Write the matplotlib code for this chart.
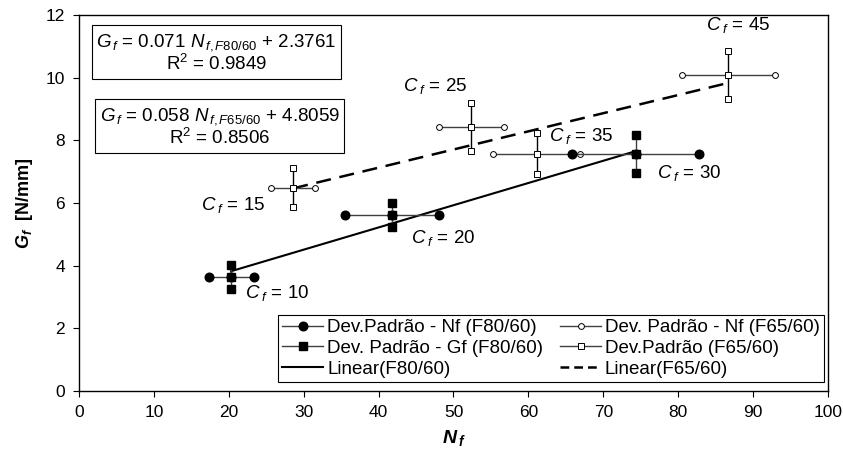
import numpy as np
import matplotlib
matplotlib.use('Agg')
import matplotlib.pyplot as plt
from matplotlib.lines import Line2D

plt.rcParams['font.family'] = ['Liberation Sans', 'DejaVu Sans']
plt.rcParams['mathtext.fontset'] = 'custom'
plt.rcParams['mathtext.rm'] = 'Liberation Sans'
plt.rcParams['mathtext.it'] = 'Liberation Sans:italic'
plt.rcParams['mathtext.bf'] = 'Liberation Sans:bold'
plt.rcParams['mathtext.bfit'] = 'Liberation Sans:italic:bold'

# F80/60 series (Cf = 10, 20, 30)
cf_80 = [10, 20, 30]
nf_80 = [20.3, 41.8, 74.3]
gf_80 = [3.64, 5.61, 7.56]
sd_nf_80 = [3.0, 6.3, 8.5]
sd_gf_80 = [0.39, 0.38, 0.62]

# F65/60 series (Cf = 15, 25, 35, 45)
cf_65 = [15, 25, 35, 45]
nf_65 = [28.6, 52.4, 61.1, 86.7]
gf_65 = [6.49, 8.42, 7.57, 10.08]
sd_nf_65 = [2.95, 4.3, 5.8, 6.25]
sd_gf_65 = [0.61, 0.76, 0.65, 0.76]

# trendline coefficients as printed on the chart
slope_80, icpt_80, r2_80 = 0.071, 2.3761, 0.9849
slope_65, icpt_65, r2_65 = 0.058, 4.8059, 0.8506

# label placement (data coords) for the Cf annotations
lab_80 = [(22.1, 3.12), (44.3, 4.87), (77.2, 6.95)]
lab_65 = [(16.3, 5.93), (43.2, 9.73), (62.8, 8.14), (83.7, 11.68)]

BAR = '#404040'
FS = 13.5

fig = plt.figure(figsize=(8.43, 4.59), dpi=100)
ax = fig.add_axes([0.0937, 0.1488, 0.8885, 0.8183])

# trendlines
x80 = np.array([min(nf_80), max(nf_80)])
x65 = np.array([min(nf_65), max(nf_65)])
ax.plot(x80, slope_80 * x80 + icpt_80, color='black', lw=1.5, zorder=2)
ax.plot(x65, slope_65 * x65 + icpt_65, color='black', lw=1.8,
        dashes=(6, 3.5), zorder=2)

# F65/60 crosses
for x, y, sx, sy in zip(nf_65, gf_65, sd_nf_65, sd_gf_65):
    ax.plot([x - sx, x, x + sx], [y, y, y], color=BAR, lw=1.0,
            marker='o', ms=4.2, mfc='white', mec='black', mew=0.7, zorder=3)
    ax.plot([x, x, x], [y - sy, y, y + sy], color='black', lw=1.0,
            marker='s', ms=4.8, mfc='white', mec='black', mew=0.7, zorder=4)

# F80/60 crosses
for x, y, sx, sy in zip(nf_80, gf_80, sd_nf_80, sd_gf_80):
    ax.plot([x - sx, x, x + sx], [y, y, y], color=BAR, lw=1.0,
            marker='o', ms=6.2, mfc='black', mec='black', zorder=3)
    ax.plot([x, x, x], [y - sy, y, y + sy], color=BAR, lw=1.0,
            marker='s', ms=5.6, mfc='black', mec='black', zorder=4)

for c, (tx, ty) in zip(cf_80 + cf_65, lab_80 + lab_65):
    ax.text(tx, ty, r'$C_{\;f}$ = %d' % c, fontsize=FS, ha='left', va='center')

box = dict(boxstyle='square,pad=0.25', fc='white', ec='black', lw=0.8)
ax.text(0.1836, 0.899,
        r'$G_{\,f}$ = %.3f $N_{\,f,F80/60}$ + %.4f' % (slope_80, icpt_80) + '\n' +
        r'R$^2$ = %.4f' % r2_80,
        transform=ax.transAxes, ha='center', va='center', fontsize=FS,
        linespacing=1.1, bbox=box)
ax.text(0.188, 0.702,
        r'$G_{\,f}$ = %.3f $N_{\,f,F65/60}$ + %.4f' % (slope_65, icpt_65) + '\n' +
        r'R$^2$ = %.4f' % r2_65,
        transform=ax.transAxes, ha='center', va='center', fontsize=FS,
        linespacing=1.1, bbox=box)

ax.set_xlim(0, 100)
ax.set_ylim(0, 12)
ax.set_xticks(np.arange(0, 101, 10))
ax.set_yticks(np.arange(0, 13, 2))
ax.tick_params(direction='out', length=4, width=0.8, labelsize=12.5, pad=6)
for s in ax.spines.values():
    s.set_linewidth(1.0)

ax.set_xlabel(r'$\mathbfit{N}_{\,\mathbfit{f}}$', fontsize=14, labelpad=6)
ax.set_ylabel(r'$\mathbfit{G}_{\mathbfit{f}}$  [N/mm]', fontsize=13,
              fontweight='bold', labelpad=8)

handles = [
    Line2D([], [], color=BAR, lw=1.0, marker='o', ms=6.2, mfc='black', mec='black'),
    Line2D([], [], color=BAR, lw=1.0, marker='s', ms=5.6, mfc='black', mec='black'),
    Line2D([], [], color='black', lw=1.5),
    Line2D([], [], color=BAR, lw=1.0, marker='o', ms=4.2, mfc='white', mec='black', mew=0.7),
    Line2D([], [], color=BAR, lw=1.0, marker='s', ms=4.8, mfc='white', mec='black', mew=0.7),
    Line2D([], [], color='black', lw=1.8, dashes=(3.5, 2)),
]
labels = ['Dev.Padrão - Nf (F80/60)', 'Dev. Padrão - Gf (F80/60)', 'Linear(F80/60)',
          'Dev. Padrão - Nf (F65/60)', 'Dev.Padrão (F65/60)', 'Linear(F65/60)']
leg = ax.legend(handles, labels, ncol=2, loc='lower right',
                bbox_to_anchor=(0.994, 0.024), fontsize=FS, frameon=True,
                fancybox=False, edgecolor='black', framealpha=1,
                handlelength=2.2, handletextpad=0.2, columnspacing=0.9,
                labelspacing=0.2, borderpad=0.2, borderaxespad=0.0,
                numpoints=1)
leg.get_frame().set_linewidth(0.8)

fig.savefig('out.png', dpi=100)
